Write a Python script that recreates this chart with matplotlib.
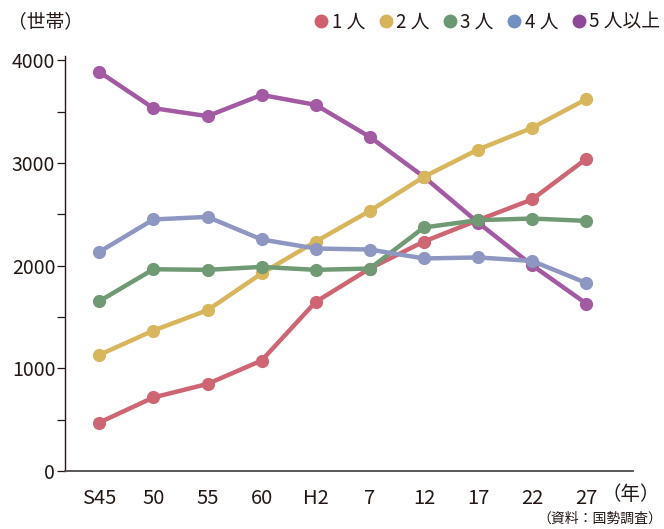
import matplotlib
matplotlib.use("Agg")
import matplotlib.pyplot as plt
from matplotlib.lines import Line2D
from matplotlib.ticker import MultipleLocator

plt.rcParams['font.family'] = ['Noto Sans CJK JP', 'DejaVu Sans']

years = ["S45", "50", "55", "60", "H2", "7", "12", "17", "22", "27"]
series_names = ["1 人", "2 人", "3 人", "4 人", "5 人以上"]
one_person = [472, 716, 848, 1076, 1647, 1972, 2235, 2443, 2645, 3040]
two_person = [1131, 1368, 1566, 1924, 2235, 2533, 2865, 3131, 3342, 3621]
three_person = [1654, 1965, 1959, 1988, 1959, 1972, 2372, 2443, 2459, 2436]
four_person = [2134, 2450, 2475, 2255, 2167, 2157, 2070, 2080, 2046, 1832]
five_plus = [3887, 3534, 3456, 3663, 3566, 3254, 2865, 2420, 2004, 1631]

line_colors = ["#CF6573", "#D8B65B", "#6F9A73", "#8E96C2", "#A25BA2"]
legend_colors = ["#D0606E", "#D7B35A", "#6B9870", "#7291C2", "#8E4898"]
values = [one_person, two_person, three_person, four_person, five_plus]
zorders = [3, 4, 5, 6, 2]

fig = plt.figure(figsize=(6.64, 5.29), dpi=100)
ax = fig.add_axes([65/664, 1-471/529, (633-65)/664, (471-56)/529])

x = list(range(len(years)))
for vals, c, z in zip(values, line_colors, zorders):
    ax.plot(x, vals, color=c, lw=3.2, marker='o', markersize=9.5,
            markeredgewidth=0, zorder=z, solid_capstyle='round')

ax.set_xlim(-0.634, 9.865)
ax.set_ylim(0, 4042)
ax.yaxis.set_major_locator(MultipleLocator(1000))
ax.yaxis.set_minor_locator(MultipleLocator(500))
ax.set_xticks(x)
ax.set_xticklabels(years)

for s in ['top', 'right']:
    ax.spines[s].set_visible(False)
ax.spines['left'].set_color('#231815')
ax.spines['left'].set_linewidth(1.0)
ax.spines['bottom'].set_color('#4a4a4a')
ax.spines['bottom'].set_linewidth(1.3)

ax.tick_params(axis='y', which='both', direction='out', length=6, width=0.9,
               color='#231815', labelsize=14, pad=1, labelcolor='#231815')
ax.tick_params(axis='x', which='both', length=0, labelsize=14.5, pad=12,
               labelcolor='#231815')

fig.text(8/664, 1-22/529, "（世帯）", fontsize=13.5, va='center', ha='left',
         color='#231815')
fig.text(660/664, 1-495/529, "（年）", fontsize=14, va='center', ha='right',
         color='#231815')
fig.text(662/664, 1-519/529, "（資料：国勢調査）", fontsize=10, va='center',
         ha='right', color='#231815')

handles = [Line2D([], [], color=c, marker='o', linestyle='None', markersize=10,
                  markeredgewidth=0) for c in legend_colors]
fig.legend(handles, series_names, loc='center right',
           bbox_to_anchor=(660/664, 1-22/529), ncol=5, frameon=False,
           fontsize=13.5, handletextpad=0.05, columnspacing=0.6,
           handlelength=1.0, borderpad=0, borderaxespad=0,
           labelcolor='#231815')

fig.savefig("out.png", dpi=100)
